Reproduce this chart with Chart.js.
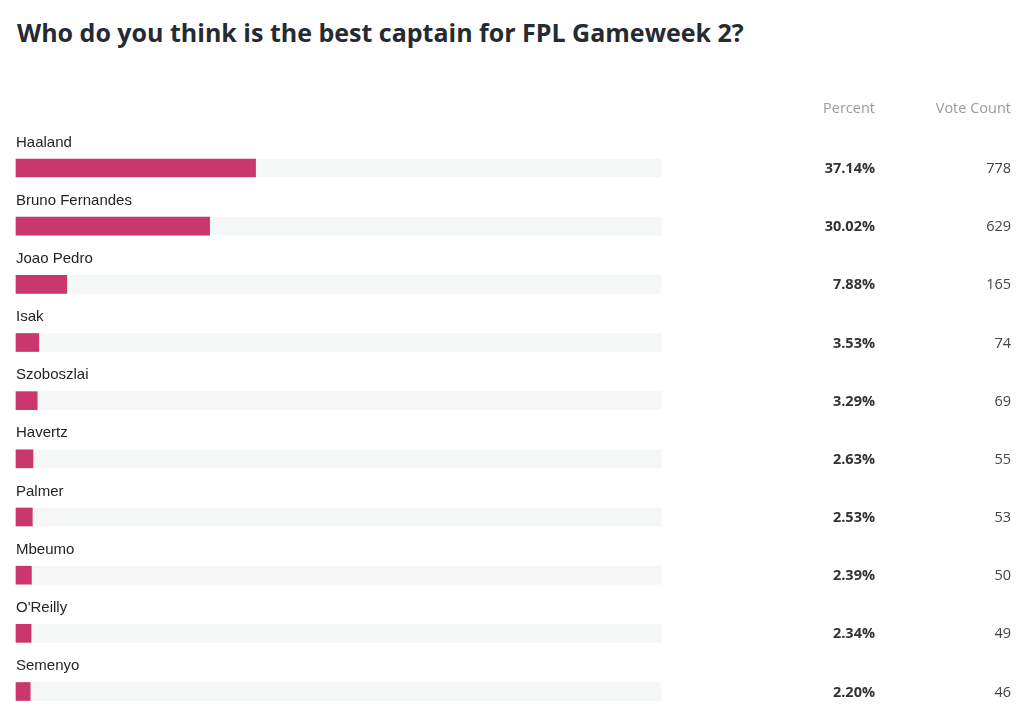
<!DOCTYPE html>
<html>
<head>
<meta charset="utf-8">
<script src="https://cdn.jsdelivr.net/npm/chart.js@4"></script>
<style>
  html, body { margin: 0; padding: 0; background: #fff; overflow: hidden; }
  #title {
    position: absolute; left: 17px; top: 15px;
    font-family: "Open Sans", sans-serif; font-weight: 700; font-size: 25px;
    color: #262a31; white-space: nowrap;
  }
  #wrap { position: absolute; left: 0; top: 0; width: 1024px; height: 716px; }
</style>
</head>
<body>
<div id="title">Who do you think is the best captain for FPL Gameweek 2?</div>
<div id="wrap"><canvas id="poll"></canvas></div>
<script>
// poll results
const players = ['Haaland', 'Bruno Fernandes', 'Joao Pedro', 'Isak', 'Szoboszlai', 'Havertz', 'Palmer', 'Mbeumo', "O'Reilly", 'Semenyo'];
const percents = [37.14, 30.02, 7.88, 3.53, 3.29, 2.63, 2.53, 2.39, 2.34, 2.20];
const votes = [778, 629, 165, 74, 69, 55, 53, 50, 49, 46];
const columnHeaders = ['Percent', 'Vote Count'];

// full-width grey track behind each bar
const track = players.map(() => 100);

const rowText = {
  id: 'rowText',
  afterDatasetsDraw(chart) {
    const ctx = chart.ctx;
    const y = chart.scales.y;
    ctx.save();
    ctx.textBaseline = 'middle';

    // column headers
    ctx.font = '14.5px "Open Sans", sans-serif';
    ctx.fillStyle = '#9a9a9a';
    ctx.textAlign = 'right';
    ctx.fillText(columnHeaders[0], 875, 109);
    ctx.fillText(columnHeaders[1], 1011, 109);

    players.forEach((name, i) => {
      const py = y.getPixelForValue(i);
      ctx.textAlign = 'left';
      ctx.font = '15px "Liberation Sans", Arial, sans-serif';
      ctx.fillStyle = '#252423';
      ctx.fillText(name, 16, py - 25.5);

      ctx.textAlign = 'right';
      ctx.font = 'bold 14.5px "Open Sans", sans-serif';
      ctx.fillStyle = '#303236';
      ctx.fillText(percents[i].toFixed(2) + '%', 875, py + 1);

      ctx.font = '14.5px "Open Sans", sans-serif';
      ctx.fillStyle = '#444';
      ctx.fillText(String(votes[i]), 1011, py + 1);
    });
    ctx.restore();
  }
};

new Chart(document.getElementById('poll'), {
  type: 'bar',
  data: {
    labels: players,
    datasets: [
      {
        label: 'Percent',
        data: percents,
        backgroundColor: '#c9376d',
        barThickness: 18,
        grouped: false,
        clip: false,
        order: 0
      },
      {
        label: 'Track',
        data: track,
        backgroundColor: '#f5f6f6',
        barThickness: 18,
        grouped: false,
        clip: false,
        order: 1
      }
    ]
  },
  options: {
    indexAxis: 'y',
    responsive: true,
    maintainAspectRatio: false,
    animation: false,
    layout: {
      padding: { left: 16, right: 363, top: 168, bottom: 24.5 }
    },
    scales: {
      x: { display: false, min: 0, max: 100 },
      y: { display: false, offset: false }
    },
    plugins: {
      legend: { display: false },
      tooltip: { enabled: false }
    }
  },
  plugins: [rowText]
});
</script>
</body>
</html>
